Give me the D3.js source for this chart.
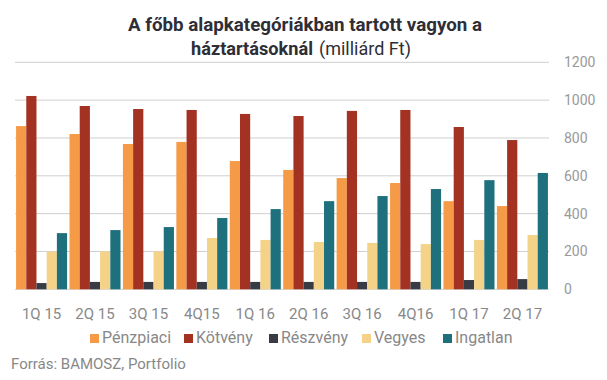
<!DOCTYPE html>
<html><head><meta charset="utf-8">
<script src="https://cdn.jsdelivr.net/npm/d3@7"></script>
<style>body{margin:0;background:#fff}svg{display:block;font-family:Roboto,sans-serif}</style>
</head><body><svg id="c" width="607" height="380"></svg>
<script>
const categories = ["1Q 15","2Q 15","3Q 15","4Q15","1Q 16","2Q 16","3Q 16","4Q16","1Q 17","2Q 17"];
const seriesNames = ["Pénzpiaci","Kötvény","Részvény","Vegyes","Ingatlan"];
const penzpiaci = [863,821,768,779,678,631,588,562,466,440];
const kotveny   = [1022,969,953,948,927,916,943,948,858,789];
const reszveny  = [33,39,39,39,39,39,39,39,49,54];
const vegyes    = [199,200,200,271,261,250,245,239,261,287];
const ingatlan  = [297,313,329,377,424,466,493,530,577,615];
const yTicks = [0,200,400,600,800,1000,1200];
const colors = ["#F59B47","#A33222","#383B44","#F4D389","#1E707D"];
const seriesValues = [penzpiaci,kotveny,reszveny,vegyes,ingatlan];

const svg = d3.select("#c");
const x0 = d3.scaleBand().domain(categories).range([15,549]).paddingInner(0.045).paddingOuter(0.02);
const x1 = d3.scaleBand().domain(seriesNames).range([0,x0.bandwidth()]);
const y = d3.scaleLinear().domain([0,1200]).range([289.3,62.3]);

// gridlines
svg.append("g").selectAll("line").data(yTicks).join("line")
  .attr("x1",15).attr("x2",549).attr("y1",d=>y(d)).attr("y2",d=>y(d))
  .attr("stroke","#cfcfcf").attr("stroke-width",1);

// right axis labels
const yAxis = d3.axisRight(y).tickValues(yTicks).tickFormat(d3.format("d")).tickSize(0).tickPadding(0);
const ga = svg.append("g").attr("transform","translate(564,0)").call(yAxis);
ga.select(".domain").remove();
ga.selectAll("text").attr("fill","#999").style("font-size","14px").style("font-family","Roboto");

// bars
const groups = svg.append("g").selectAll("g").data(categories).join("g")
  .attr("transform",d=>`translate(${x0(d)},0)`);
groups.selectAll("rect").data((d,i)=>seriesNames.map((s,j)=>({s,v:seriesValues[j][i],c:colors[j]})))
  .join("rect")
  .attr("x",d=>x1(d.s)).attr("width",x1.bandwidth())
  .attr("y",d=>y(d.v)).attr("height",d=>y(0)-y(d.v)).attr("fill",d=>d.c);

// x labels
const xAxis = d3.axisBottom(x0).tickSize(0).tickPadding(0);
const gx = svg.append("g").attr("transform","translate(0,308)").call(xAxis);
gx.select(".domain").remove();
gx.selectAll("text").attr("fill","#888").style("font-size","15px").style("font-family","Roboto").attr("dy","0.71em");

// title
svg.append("text").attr("x",305).attr("y",31).attr("text-anchor","middle")
  .attr("fill","#2e2e36").style("font-size","19px").style("font-weight","bold")
  .attr("textLength",354).attr("lengthAdjust","spacingAndGlyphs")
  .text("A főbb alapkategóriákban tartott vagyon a");
svg.append("text").attr("x",191).attr("y",55)
  .attr("fill","#2e2e36").style("font-size","19px").style("font-weight","bold")
  .attr("textLength",122).attr("lengthAdjust","spacingAndGlyphs")
  .text("háztartásoknál");
svg.append("text").attr("x",319).attr("y",55)
  .attr("fill","#2e2e36").style("font-size","18px")
  .text("(milliárd Ft)");

// legend
const legendX = [90,184,269,362,443];
const lg = svg.append("g").selectAll("g").data(seriesNames).join("g")
  .attr("transform",(d,i)=>`translate(${legendX[i]},334)`);
lg.append("rect").attr("width",9).attr("height",9).attr("y",0).attr("fill",(d,i)=>colors[i]);
lg.append("text").attr("x",12).attr("y",9).attr("fill","#888").style("font-size","16px").text(d=>d);

svg.append("text").attr("x",11).attr("y",369).attr("fill","#888").style("font-size","15px")
  .text("Forrás: BAMOSZ, Portfolio");
</script></body></html>
